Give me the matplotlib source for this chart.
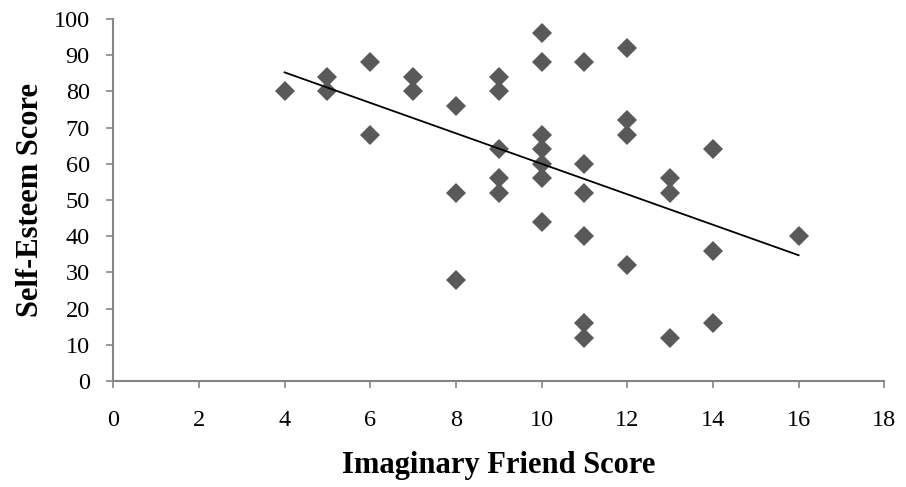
import matplotlib
matplotlib.use("Agg")
import matplotlib.pyplot as plt
import numpy as np

# imaginary friend score vs self-esteem score
friend = [4, 5, 5, 6, 6, 7, 7, 8, 8, 8,
          9, 9, 9, 9, 9,
          10, 10, 10, 10, 10, 10, 10,
          11, 11, 11, 11, 11, 11,
          12, 12, 12, 12,
          13, 13, 13,
          14, 14, 14,
          16]
esteem = [80, 84, 80, 88, 68, 84, 80, 76, 52, 28,
          84, 80, 64, 56, 52,
          96, 88, 68, 64, 60, 56, 44,
          88, 60, 52, 40, 16, 12,
          92, 72, 68, 32,
          56, 52, 12,
          64, 36, 16,
          40]

plt.rcParams['font.family'] = ['Liberation Serif', 'DejaVu Serif']

fig = plt.figure(figsize=(9.06, 4.87), dpi=100)
ax = fig.add_axes([0.125, 0.2177, 0.851, 0.7433])

ax.plot(friend, esteem, linestyle='none', marker='D', markersize=10,
        color='#595959', markeredgewidth=0)

# linear trendline
slope, icpt = np.polyfit(friend, esteem, 1)
xs = np.array([min(friend), max(friend)])
ax.plot(xs, slope * xs + icpt, color='black', linewidth=1.3)

ax.set_xlim(0, 18)
ax.set_ylim(0, 100)
ax.set_xticks(np.arange(0, 19, 2))
ax.set_yticks(np.arange(0, 101, 10))

for s in ['top', 'right']:
    ax.spines[s].set_visible(False)
for s in ['left', 'bottom']:
    ax.spines[s].set_color('#868686')
    ax.spines[s].set_linewidth(1.5)
ax.tick_params(axis='both', direction='out', length=5, width=1.2,
               color='#868686', labelsize=17.5, labelcolor='black')
ax.tick_params(axis='x', pad=16)
ax.tick_params(axis='y', pad=12)

ax.set_xlabel('Imaginary Friend Score', fontsize=22, fontweight='bold', labelpad=14)
ax.set_ylabel('Self-Esteem Score', fontsize=22, fontweight='bold', labelpad=6)

fig.savefig('out.png', dpi=100)
